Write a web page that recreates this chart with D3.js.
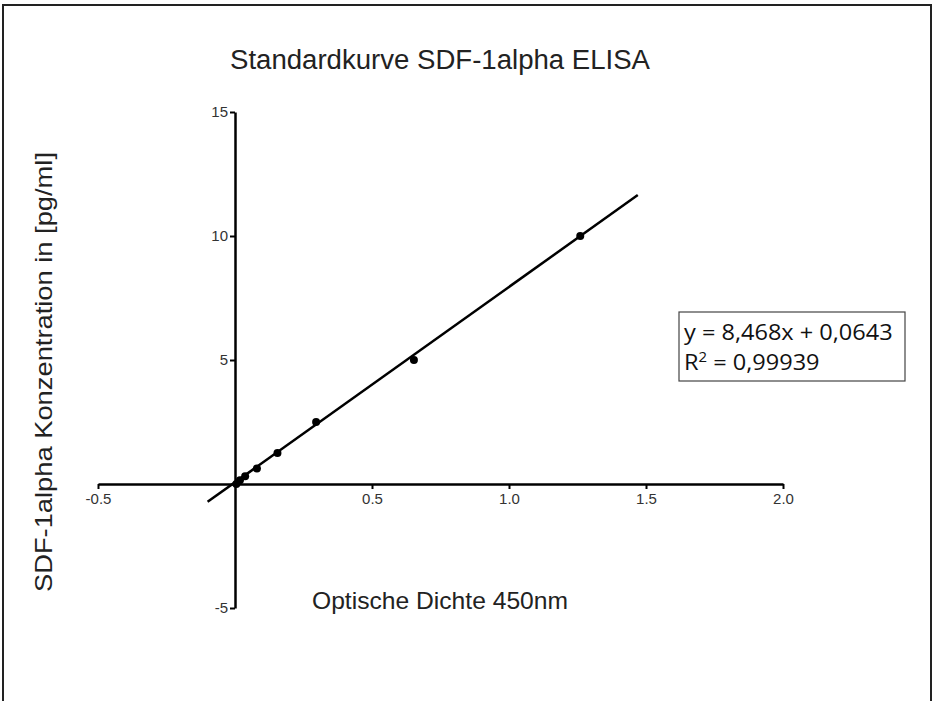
<!DOCTYPE html>
<html>
<head>
<meta charset="utf-8">
<script src="https://cdn.jsdelivr.net/npm/d3@7"></script>
<style>
  body { margin: 0; background: #fff; }
  svg { display: block; }
</style>
</head>
<body>
<div id="chart"></div>
<script>
// Standard curve data (OD 450nm vs concentration)
const odValues = [0.005, 0.018, 0.037, 0.08, 0.155, 0.296, 0.653, 1.26];
const concValues = [0, 0.156, 0.3125, 0.625, 1.25, 2.5, 5, 10];

// Fitted line as drawn (start and end)
const fitX = [-0.1, 1.47];
const fitY = [-0.72, 11.65];

const xTicks = [-0.5, 0.5, 1.0, 1.5, 2.0];
const yTicks = [-5, 5, 10, 15];

const equationLines = ['y = 8,468x + 0,0643', ' = 0,99939'];

const width = 936, height = 701;

const svg = d3.select('#chart').append('svg')
    .attr('width', width)
    .attr('height', height);

// outer frame
svg.append('rect')
    .attr('x', 3).attr('y', 5)
    .attr('width', 928).attr('height', 700)
    .attr('fill', 'none')
    .attr('stroke', '#222')
    .attr('stroke-width', 2);

const x = d3.scaleLinear().domain([-0.5, 2.0]).range([98, 783]);
const y = d3.scaleLinear().domain([-5, 15]).range([608, 112]);

const font = "'Liberation Sans', Arial, sans-serif";

// x axis through y = 0
const xAxis = d3.axisBottom(x)
    .tickValues(xTicks)
    .tickFormat(d => d.toFixed(1))
    .tickSize(5)
    .tickSizeOuter(0);

const gx = svg.append('g')
    .attr('transform', `translate(0,${y(0)})`)
    .call(xAxis);
gx.select('.domain').attr('stroke', '#000').attr('stroke-width', 2.5);
gx.selectAll('.tick line').attr('stroke', '#000').attr('stroke-width', 2);
gx.selectAll('.tick text')
    .attr('font-family', font)
    .attr('font-size', 15)
    .attr('fill', '#333')
    .attr('y', 9);

// y axis through x = 0
const yAxis = d3.axisLeft(y)
    .tickValues(yTicks)
    .tickFormat(d => String(d))
    .tickSize(5)
    .tickSizeOuter(0);

const gy = svg.append('g')
    .attr('transform', `translate(${x(0)},0)`)
    .call(yAxis);
gy.select('.domain').attr('stroke', '#000').attr('stroke-width', 2.5);
gy.selectAll('.tick line').attr('stroke', '#000').attr('stroke-width', 2);
gy.selectAll('.tick text')
    .attr('font-family', font)
    .attr('font-size', 15)
    .attr('fill', '#333')
    .attr('x', -7);

// regression line
svg.append('line')
    .attr('x1', x(fitX[0])).attr('y1', y(fitY[0]))
    .attr('x2', x(fitX[1])).attr('y2', y(fitY[1]))
    .attr('stroke', '#000')
    .attr('stroke-width', 2.5);

// data points
svg.append('g').selectAll('circle')
    .data(odValues)
    .join('circle')
    .attr('cx', d => x(d))
    .attr('cy', (d, i) => y(concValues[i]))
    .attr('r', 4)
    .attr('fill', '#000');

// title
svg.append('text')
    .attr('x', 440).attr('y', 69)
    .attr('text-anchor', 'middle')
    .attr('font-family', font)
    .attr('font-size', 27)
    .attr('textLength', 420)
    .attr('lengthAdjust', 'spacingAndGlyphs')
    .attr('fill', '#222')
    .text('Standardkurve SDF-1alpha ELISA');

// axis titles
svg.append('text')
    .attr('x', 440).attr('y', 609)
    .attr('text-anchor', 'middle')
    .attr('font-family', font)
    .attr('font-size', 24)
    .attr('textLength', 256)
    .attr('lengthAdjust', 'spacingAndGlyphs')
    .attr('fill', '#222')
    .text('Optische Dichte 450nm');

svg.append('text')
    .attr('transform', 'translate(52,372) rotate(-90)')
    .attr('text-anchor', 'middle')
    .attr('font-family', font)
    .attr('font-size', 24)
    .attr('textLength', 440)
    .attr('lengthAdjust', 'spacingAndGlyphs')
    .attr('fill', '#222')
    .text('SDF-1alpha Konzentration in [pg/ml]');

// equation box
const box = svg.append('g').attr('transform', 'translate(679,312)');
box.append('rect')
    .attr('width', 226).attr('height', 69)
    .attr('fill', '#fff')
    .attr('stroke', '#444')
    .attr('stroke-width', 1.2);

const eqFont = "'Open Sans', Carlito, sans-serif";
// text slightly widened, both lines alike
const eq = box.append('g').attr('transform', 'translate(5,0) scale(1.07,1)');

eq.append('text')
    .attr('x', 0).attr('y', 28)
    .attr('font-family', eqFont)
    .attr('font-size', 22)
    .attr('fill', '#111')
    .text(equationLines[0]);

const r2 = eq.append('text')
    .attr('x', 0).attr('y', 58)
    .attr('font-family', eqFont)
    .attr('font-size', 22)
    .attr('fill', '#111');
r2.append('tspan').text('R');
r2.append('tspan').attr('dy', -8).attr('font-size', 14).text('2');
r2.append('tspan').attr('dy', 8).text(equationLines[1]);
</script>
</body>
</html>
